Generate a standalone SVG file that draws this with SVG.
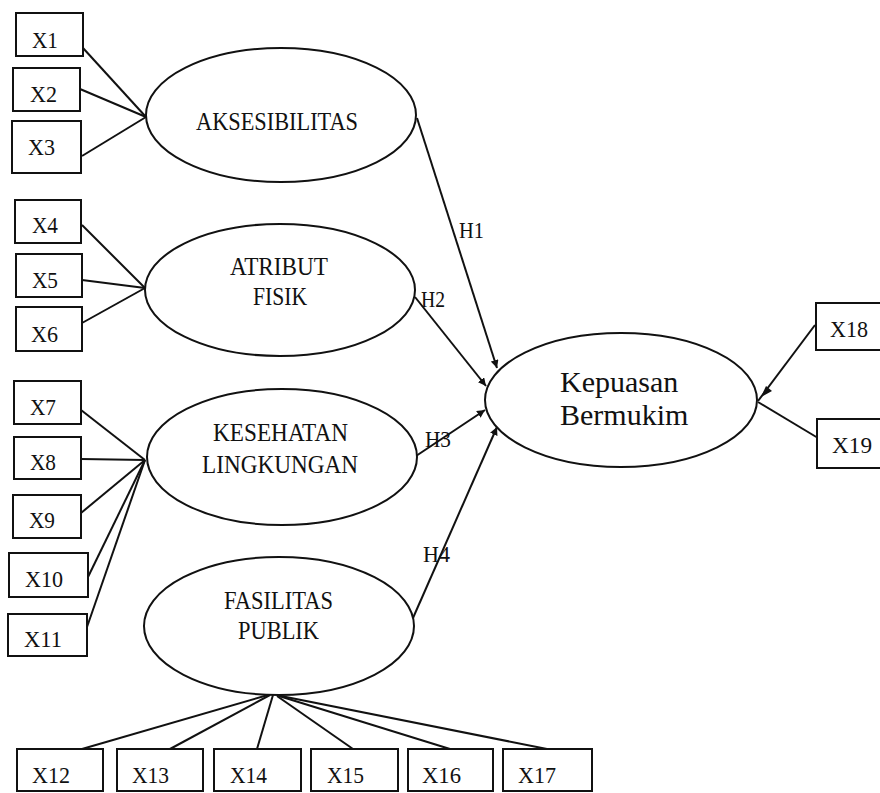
<svg xmlns="http://www.w3.org/2000/svg" width="880" height="793" viewBox="0 0 880 793">
<style>
.box{fill:#fff;stroke:#111;stroke-width:2}
.ell{fill:#fff;stroke:#111;stroke-width:2}
.ln{stroke:#111;stroke-width:2;fill:none}
.t{font-family:"Liberation Serif",serif;font-size:24px;fill:#111}
.e{font-family:"Liberation Serif",serif;font-size:26px;fill:#111}
.k{font-family:"Liberation Serif",serif;font-size:30px;fill:#111}
.h{font-family:"Liberation Serif",serif;font-size:23px;fill:#111}
</style>
<defs>
<marker id="arr" viewBox="0 0 10 10" refX="10" refY="5" markerWidth="8" markerHeight="8" markerUnits="userSpaceOnUse" orient="auto">
<path d="M0,0 L10,5 L0,10 Z" fill="#111"/>
</marker>
</defs>
<rect width="880" height="793" fill="#fff"/>
<g id="connectors">
<line class="ln" x1="83" y1="48" x2="146" y2="117"/>
<line class="ln" x1="80" y1="89" x2="146" y2="117"/>
<line class="ln" x1="82" y1="156" x2="146" y2="117"/>
<line class="ln" x1="82" y1="225" x2="145" y2="288"/>
<line class="ln" x1="82" y1="280" x2="145" y2="288"/>
<line class="ln" x1="82" y1="323" x2="145" y2="288"/>
<line class="ln" x1="81" y1="410" x2="145" y2="460"/>
<line class="ln" x1="81" y1="459" x2="145" y2="460"/>
<line class="ln" x1="81" y1="513" x2="145" y2="460"/>
<line class="ln" x1="88" y1="577" x2="145" y2="460"/>
<line class="ln" x1="87" y1="627" x2="145" y2="460"/>
<line class="ln" x1="82" y1="749" x2="268" y2="695"/>
<line class="ln" x1="170" y1="749" x2="270" y2="695"/>
<line class="ln" x1="257" y1="749" x2="273" y2="695"/>
<line class="ln" x1="353" y1="749" x2="277" y2="696"/>
<line class="ln" x1="450" y1="749" x2="279" y2="696"/>
<line class="ln" x1="547" y1="749" x2="281" y2="696"/>
<line class="ln" x1="417" y1="118" x2="497" y2="368" marker-end="url(#arr)"/>
<line class="ln" x1="415" y1="297" x2="486" y2="386" marker-end="url(#arr)"/>
<line class="ln" x1="413" y1="458" x2="485" y2="410" marker-end="url(#arr)"/>
<line class="ln" x1="413" y1="618" x2="497" y2="427" marker-end="url(#arr)"/>
<line class="ln" x1="815" y1="325" x2="758" y2="401"/>
<polygon points="761,397 766,386 772,391" fill="#111"/>
<line class="ln" x1="758" y1="402" x2="818" y2="438"/>
</g>
<g id="AKSESIBILITAS"><ellipse class="ell" cx="281" cy="115" rx="135" ry="67"/><text class="e" x="196" y="130" textLength="162" lengthAdjust="spacingAndGlyphs">AKSESIBILITAS</text></g>
<g id="ATRIBUT_FISIK"><ellipse class="ell" cx="280" cy="290" rx="135" ry="66"/><text class="e" x="230" y="275" textLength="98" lengthAdjust="spacingAndGlyphs">ATRIBUT</text><text class="e" x="253" y="305" textLength="54" lengthAdjust="spacingAndGlyphs">FISIK</text></g>
<g id="KESEHATAN_LINGKUNGAN"><ellipse class="ell" cx="282" cy="457" rx="135" ry="68"/><text class="e" x="213" y="441" textLength="135" lengthAdjust="spacingAndGlyphs">KESEHATAN</text><text class="e" x="202" y="473" textLength="156" lengthAdjust="spacingAndGlyphs">LINGKUNGAN</text></g>
<g id="FASILITAS_PUBLIK"><ellipse class="ell" cx="279" cy="626" rx="135" ry="69"/><text class="e" x="224" y="609" textLength="109" lengthAdjust="spacingAndGlyphs">FASILITAS</text><text class="e" x="238" y="639" textLength="81" lengthAdjust="spacingAndGlyphs">PUBLIK</text></g>
<g id="Kepuasan_Bermukim"><ellipse class="ell" cx="621" cy="400" rx="136" ry="67"/><text class="k" x="560" y="392">Kepuasan</text><text class="k" x="560" y="425">Bermukim</text></g>
<g id="X1"><rect class="box" x="16" y="13" width="67" height="43"/><text class="t" x="32" y="48" textLength="26" lengthAdjust="spacingAndGlyphs">X1</text></g>
<g id="X2"><rect class="box" x="13" y="68" width="67" height="43"/><text class="t" x="30" y="102" textLength="27" lengthAdjust="spacingAndGlyphs">X2</text></g>
<g id="X3"><rect class="box" x="12" y="121" width="69" height="52"/><text class="t" x="28" y="155" textLength="27" lengthAdjust="spacingAndGlyphs">X3</text></g>
<g id="X4"><rect class="box" x="15" y="200" width="66" height="43"/><text class="t" x="32" y="233" textLength="26" lengthAdjust="spacingAndGlyphs">X4</text></g>
<g id="X5"><rect class="box" x="16" y="254" width="66" height="43"/><text class="t" x="32" y="288" textLength="26" lengthAdjust="spacingAndGlyphs">X5</text></g>
<g id="X6"><rect class="box" x="16" y="307" width="66" height="44"/><text class="t" x="31" y="342" textLength="27" lengthAdjust="spacingAndGlyphs">X6</text></g>
<g id="X7"><rect class="box" x="14" y="381" width="67" height="43"/><text class="t" x="30" y="415" textLength="26" lengthAdjust="spacingAndGlyphs">X7</text></g>
<g id="X8"><rect class="box" x="14" y="437" width="67" height="42"/><text class="t" x="30" y="470" textLength="26" lengthAdjust="spacingAndGlyphs">X8</text></g>
<g id="X9"><rect class="box" x="13" y="495" width="68" height="43"/><text class="t" x="29" y="528" textLength="26" lengthAdjust="spacingAndGlyphs">X9</text></g>
<g id="X10"><rect class="box" x="9" y="553" width="79" height="44"/><text class="t" x="25" y="587" textLength="38" lengthAdjust="spacingAndGlyphs">X10</text></g>
<g id="X11"><rect class="box" x="8" y="614" width="79" height="42"/><text class="t" x="24" y="647" textLength="38" lengthAdjust="spacingAndGlyphs">X11</text></g>
<g id="X12"><rect class="box" x="17" y="749" width="86" height="42"/><text class="t" x="32" y="783" textLength="38" lengthAdjust="spacingAndGlyphs">X12</text></g>
<g id="X13"><rect class="box" x="117" y="749" width="86" height="42"/><text class="t" x="132" y="783" textLength="37" lengthAdjust="spacingAndGlyphs">X13</text></g>
<g id="X14"><rect class="box" x="214" y="749" width="87" height="42"/><text class="t" x="230" y="783" textLength="37" lengthAdjust="spacingAndGlyphs">X14</text></g>
<g id="X15"><rect class="box" x="311" y="749" width="87" height="42"/><text class="t" x="327" y="783" textLength="37" lengthAdjust="spacingAndGlyphs">X15</text></g>
<g id="X16"><rect class="box" x="408" y="749" width="85" height="42"/><text class="t" x="422" y="783" textLength="39" lengthAdjust="spacingAndGlyphs">X16</text></g>
<g id="X17"><rect class="box" x="503" y="749" width="89" height="42"/><text class="t" x="518" y="783" textLength="38" lengthAdjust="spacingAndGlyphs">X17</text></g>
<g id="X18"><rect class="box" x="816" y="303" width="80" height="47"/><text class="t" x="830" y="337" textLength="38" lengthAdjust="spacingAndGlyphs">X18</text></g>
<g id="X19"><rect class="box" x="817" y="419" width="80" height="49"/><text class="t" x="832" y="453" textLength="40" lengthAdjust="spacingAndGlyphs">X19</text></g>
<g id="labels">
<text class="h" x="459" y="238" textLength="25" lengthAdjust="spacingAndGlyphs">H1</text>
<text class="h" x="421" y="307" textLength="24" lengthAdjust="spacingAndGlyphs">H2</text>
<text class="h" x="425" y="447" textLength="26" lengthAdjust="spacingAndGlyphs">H3</text>
<text class="h" x="423" y="562" textLength="27" lengthAdjust="spacingAndGlyphs">H4</text>
</g>
</svg>
